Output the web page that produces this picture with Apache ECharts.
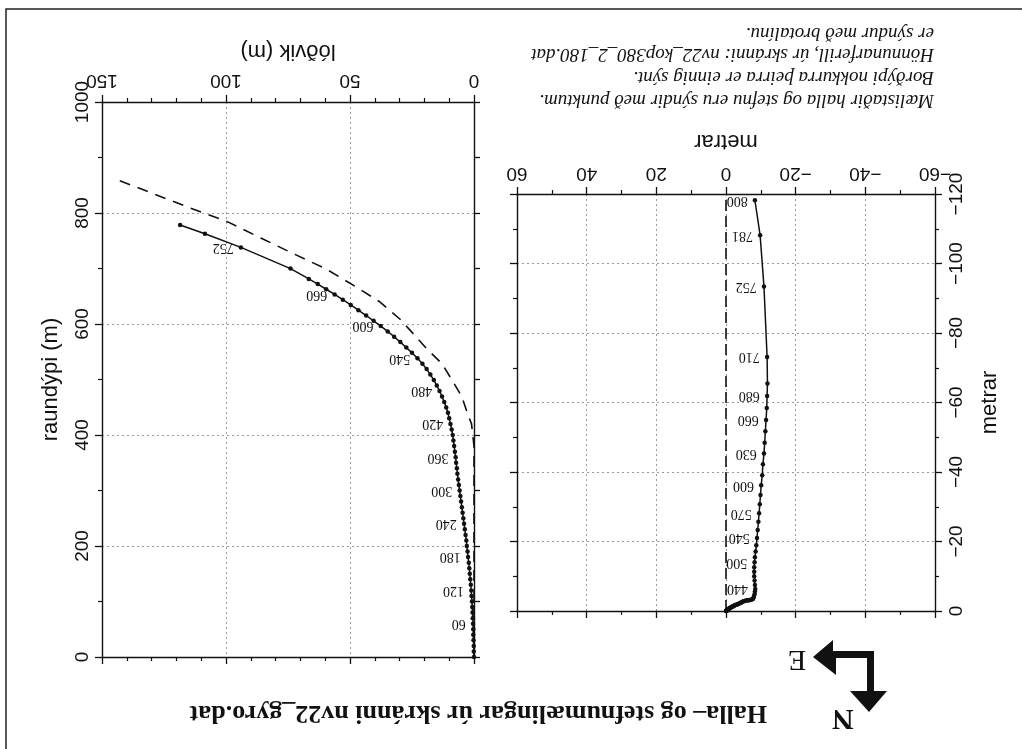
<!DOCTYPE html>
<html>
<head>
<meta charset="utf-8">
<script src="https://cdn.jsdelivr.net/npm/echarts@6/dist/echarts.min.js"></script>
<style>
  html, body { margin: 0; padding: 0; background: #fff; }
  #chart { width: 1022px; height: 749px; }
</style>
</head>
<body>
<div id="chart"></div>
<script>
// Gyro survey of well nv22: measured depth (borðdýpi) of each station
const md = [0,10,20,30,40,50,60,70,80,90,100,110,120,130,140,150,160,170,180,190,
  200,210,220,230,240,250,260,270,280,290,300,310,320,330,340,350,360,370,380,390,
  400,410,420,430,440,450,460,470,480,490,500,510,520,530,540,550,560,570,580,590,
  600,610,620,630,640,650,660,670,680,690,710,752,781,800];

// True vertical depth (raundýpi, m) of each station
const raundypi = [0,10,20,30,40,50,60,70,80,90,100,110,120,130,140,150,160,170,180,190,
  200,210,220,230,240,250,260,270,280,290,300,310,320,330,340,350,360,370,380,390,
  400,410,420,430,440,449.6,459.5,469.4,479.3,489.2,499.0,508.9,518.7,528.5,538.3,548.0,557.7,567.4,577.0,586.6,
  596.2,605.8,615.3,624.8,634.3,643.8,653.2,662.6,672.0,681.3,699.8,738.0,762.5,778.5];

// Horizontal displacement from the wellhead (lóðvik, m)
const lodvik = [0,0.1,0.1,0.2,0.3,0.3,0.4,0.5,0.6,0.7,0.8,1.0,1.1,1.3,1.5,1.7,1.9,2.1,2.4,2.6,
  2.9,3.1,3.4,3.7,4.0,4.3,4.6,4.9,5.2,5.5,5.8,6.1,6.4,6.7,6.9,7.2,7.4,7.7,8.0,8.3,
  8.6,9.0,9.5,10.0,10.5,11.2,12.0,12.9,13.9,15.0,16.2,17.6,19.1,20.8,22.8,25.0,27.3,29.7,32.2,34.8,
  37.6,40.5,43.5,46.6,49.7,52.9,56.2,59.6,63.0,66.6,74.0,94.0,108.5,118.5];

// Plan position of each station (metrar)
const austur = [0,-0.1,-0.1,-0.2,-0.2,-0.2,-0.3,-0.4,-0.5,-0.5,-0.6,-0.8,-0.9,-1.0,-1.2,-1.4,-1.5,-1.7,-2.0,-2.2,
  -2.4,-2.6,-2.9,-3.2,-3.5,-3.7,-4.0,-4.3,-4.5,-4.8,-5.1,-5.4,-5.7,-6.0,-6.2,-6.5,-6.7,-7.0,-7.3,-7.6,
  -7.8,-8.0,-8.2,-8.3,-8.4,-8.3,-8.2,-8.1,-8.1,-8.1,-8.2,-8.3,-8.5,-8.7,-8.9,-9.1,-9.3,-9.5,-9.7,-9.9,
  -10.1,-10.4,-10.6,-10.9,-11.1,-11.3,-11.5,-11.7,-11.8,-11.9,-11.8,-10.9,-9.8,-8.3];
const nordur = [0,-0.1,-0.1,-0.1,-0.2,-0.2,-0.3,-0.3,-0.4,-0.5,-0.5,-0.6,-0.7,-0.8,-0.9,-1.0,-1.1,-1.2,-1.4,-1.4,
  -1.6,-1.7,-1.8,-1.9,-2.0,-2.1,-2.3,-2.4,-2.5,-2.7,-2.8,-2.9,-3.0,-3.0,-3.1,-3.1,-3.2,-3.2,-3.3,-3.4,
  -3.6,-4.1,-4.8,-5.6,-6.3,-7.5,-8.8,-10.0,-11.3,-12.6,-14.0,-15.5,-17.1,-18.9,-21.0,-23.3,-25.7,-28.1,-30.7,-33.4,
  -36.2,-39.1,-42.2,-45.3,-48.4,-51.7,-55.0,-58.4,-61.9,-65.5,-73.1,-93.4,-108.1,-118.2];

// Stations whose depth is written beside the dot
const depthLabelMd = [60,120,180,240,300,360,420,480,540,600,660,752];
const planLabelMd = [440,500,540,570,600,630,660,680,710,752,781,800];

// Design trajectory (hönnunarferill, nv22_kop380_2_180.dat)
const designLodvik = [0,0,1,2.4,5,9,13,19,25.8,29.4,38,48,60,72,86,99.3,115,130,145.7];
const designDypi = [0,380,420,436,470,500,529,555,589,607,640,668,700,725,755,784,810,836,863];
const designAustur = [0,0];
const designNordur = [0,-120];

// Axis ticks
const lodvikTicks = { min: 0, max: 150, step: 50 };
const dypiTicks = { min: 0, max: 1000, step: 200 };
const planXTicks = { min: -60, max: 60, step: 20 };
const planYTicks = { min: -120, max: 0, step: 20 };

const SERIF = "'Liberation Serif','Times New Roman',serif";
const SANS = "'Liberation Sans',Arial,Helvetica,sans-serif";
const INK = '#111';

const chart = echarts.init(document.getElementById('chart'), null, { renderer: 'canvas' });

// plain numbers with a true minus sign, no digit grouping
const num = (v) => String(v).replace('-', '\u2212');

const gridLine = { show: true, lineStyle: { color: '#9a9a9a', width: 1, type: [2, 3] } };
const axisLine = { show: true, onZero: false, lineStyle: { color: INK, width: 1.4 } };
const tick = (len) => ({ show: true, length: len, lineStyle: { color: INK, width: 1.3 } });
const minor = (n) => ({ show: true, splitNumber: n, length: 4, lineStyle: { color: INK, width: 1.2 } });
const noLabel = { show: false };

function stationData(xs, ys, labelled) {
  return md.map((m, i) => {
    const item = { value: [xs[i], ys[i]] };
    if (labelled.includes(m)) item.label = { show: true, formatter: String(m) };
    return item;
  });
}

const stationLabel = {
  show: false, rotate: 180, position: 'left', distance: 5,
  align: 'left', verticalAlign: 'middle',
  fontFamily: SERIF, fontSize: 14, color: INK
};

const tickLabel = (rotate, margin) => ({
  rotate, margin, formatter: num, fontFamily: SANS, fontSize: 19, color: INK
});

const option = {
  animation: false,
  backgroundColor: '#fff',
  grid: [
    { left: 102, right: 548, top: 102, bottom: 92, outerBoundsMode: 'none' },
    { left: 517, right: 87, top: 194, bottom: 138, outerBoundsMode: 'none' }
  ],
  xAxis: [
    { // lóðvik, labelled edge
      gridIndex: 0, type: 'value', position: 'top', inverse: true,
      min: lodvikTicks.min, max: lodvikTicks.max, interval: lodvikTicks.step,
      name: 'lóðvik (m)', nameLocation: 'middle', nameGap: 40, nameRotate: 180,
      nameTextStyle: { fontFamily: SANS, fontSize: 22, color: INK },
      axisLine, axisTick: tick(7), minorTick: minor(5), splitLine: gridLine,
      axisLabel: tickLabel(180, 12)
    },
    {
      gridIndex: 0, type: 'value', position: 'bottom', inverse: true,
      min: lodvikTicks.min, max: lodvikTicks.max, interval: lodvikTicks.step,
      axisLine, axisTick: tick(7), minorTick: minor(5), splitLine: { show: false },
      axisLabel: noLabel
    },
    { // plan view, labelled edge
      gridIndex: 1, type: 'value', position: 'top', inverse: true,
      min: planXTicks.min, max: planXTicks.max, interval: planXTicks.step,
      name: 'metrar', nameLocation: 'middle', nameGap: 42, nameRotate: 180,
      nameTextStyle: { fontFamily: SANS, fontSize: 22, color: INK },
      axisLine, axisTick: tick(7), minorTick: minor(2), splitLine: gridLine,
      axisLabel: tickLabel(180, 11)
    },
    {
      gridIndex: 1, type: 'value', position: 'bottom', inverse: true,
      min: planXTicks.min, max: planXTicks.max, interval: planXTicks.step,
      axisLine, axisTick: tick(7), minorTick: minor(2), splitLine: { show: false },
      axisLabel: noLabel
    }
  ],
  yAxis: [
    { // raundýpi, labelled edge
      gridIndex: 0, type: 'value', position: 'left',
      min: dypiTicks.min, max: dypiTicks.max, interval: dypiTicks.step,
      name: 'raundýpi (m)', nameLocation: 'middle', nameGap: 40, nameRotate: 90,
      nameTextStyle: { fontFamily: SANS, fontSize: 22, color: INK },
      axisLine, axisTick: tick(7), minorTick: minor(2), splitLine: gridLine,
      axisLabel: tickLabel(90, 10)
    },
    {
      gridIndex: 0, type: 'value', position: 'right',
      min: dypiTicks.min, max: dypiTicks.max, interval: 100,
      axisLine, axisTick: tick(6), splitLine: { show: false }, axisLabel: noLabel
    },
    { // plan view, labelled edge
      gridIndex: 1, type: 'value', position: 'right', inverse: true,
      min: planYTicks.min, max: planYTicks.max, interval: planYTicks.step,
      name: 'metrar', nameLocation: 'middle', nameGap: 44, nameRotate: 90,
      nameTextStyle: { fontFamily: SANS, fontSize: 22, color: INK },
      axisLine, axisTick: tick(7), minorTick: minor(2), splitLine: gridLine,
      axisLabel: tickLabel(90, 12)
    },
    {
      gridIndex: 1, type: 'value', position: 'left', inverse: true,
      min: planYTicks.min, max: planYTicks.max, interval: planYTicks.step,
      axisLine, axisTick: tick(7), minorTick: minor(2), splitLine: { show: false },
      axisLabel: noLabel
    }
  ],
  series: [
    {
      name: 'hönnunarferill', type: 'line', xAxisIndex: 0, yAxisIndex: 0,
      data: designLodvik.map((v, i) => [v, designDypi[i]]),
      showSymbol: false, smooth: false,
      lineStyle: { color: INK, width: 1.6, type: [11, 8] }
    },
    {
      name: 'lóðvik', type: 'line', xAxisIndex: 0, yAxisIndex: 0,
      data: stationData(lodvik, raundypi, depthLabelMd),
      symbol: 'circle', symbolSize: 4.5, showSymbol: true, showAllSymbol: true,
      itemStyle: { color: INK },
      lineStyle: { color: INK, width: 1.5 },
      label: stationLabel
    },
    {
      name: 'hönnun, grunnmynd', type: 'line', xAxisIndex: 2, yAxisIndex: 2,
      data: designAustur.map((v, i) => [v, designNordur[i]]),
      showSymbol: false,
      lineStyle: { color: INK, width: 1.6, type: [11, 5] }
    },
    {
      name: 'grunnmynd', type: 'line', xAxisIndex: 2, yAxisIndex: 2,
      data: stationData(austur, nordur, planLabelMd),
      symbol: 'circle', symbolSize: 4.5, showSymbol: true, showAllSymbol: true,
      itemStyle: { color: INK },
      lineStyle: { color: INK, width: 1.5 },
      label: stationLabel
    }
  ],
  graphic: [
    // outer frame
    { type: 'polyline', shape: { points: [[6, 749], [6, 9], [1022, 9]] },
      style: { stroke: '#222', lineWidth: 1.5, fill: null } },
    // title
    { type: 'text', x: 767, y: 713, rotation: Math.PI,
      style: { text: 'Halla\u2013 og stefnumælingar úr skránni nv22_gyro.dat',
        font: 'bold 26px ' + SERIF, fill: INK, align: 'left', verticalAlign: 'middle' } },
    // north / east arrow
    { type: 'polygon', shape: { points: [[867, 651], [874, 651], [874, 691], [887, 691], [869, 712], [850, 691], [867, 691]] },
      style: { fill: INK } },
    { type: 'polygon', shape: { points: [[874, 651], [874, 658], [836, 658], [836, 675], [813, 657], [833, 640], [833, 651]] },
      style: { fill: INK } },
    { type: 'text', x: 843, y: 718, rotation: Math.PI,
      style: { text: 'N', font: 'bold 30px ' + SERIF, fill: INK, align: 'center', verticalAlign: 'middle' } },
    { type: 'text', x: 797, y: 659, rotation: Math.PI,
      style: { text: 'E', font: '30px ' + SERIF, fill: INK, align: 'center', verticalAlign: 'middle' } },
    // notes
    { type: 'text', x: 934, y: 100, rotation: Math.PI,
      style: { text: 'Mælistaðir halla og stefnu eru sýndir með punktum.', font: 'italic 19px ' + SERIF, fill: INK, align: 'left', verticalAlign: 'middle' } },
    { type: 'text', x: 934, y: 77, rotation: Math.PI,
      style: { text: 'Borðýpi nokkurra þeirra er einnig sýnt.', font: 'italic 19px ' + SERIF, fill: INK, align: 'left', verticalAlign: 'middle' } },
    { type: 'text', x: 934, y: 54, rotation: Math.PI,
      style: { text: 'Hönnunarferill, úr skránni: nv22_kop380_2_180.dat', font: 'italic 19px ' + SERIF, fill: INK, align: 'left', verticalAlign: 'middle' } },
    { type: 'text', x: 934, y: 33, rotation: Math.PI,
      style: { text: 'er sýndur með brotalínu.', font: 'italic 19px ' + SERIF, fill: INK, align: 'left', verticalAlign: 'middle' } }
  ]
};

chart.setOption(option);
</script>
</body>
</html>
